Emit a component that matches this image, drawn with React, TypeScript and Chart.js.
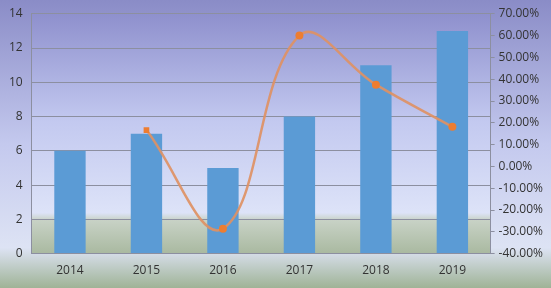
import React, { useEffect, useRef } from "react";
import { Chart, registerables } from "chart.js";

Chart.register(...registerables);

const categories = ["2014", "2015", "2016", "2017", "2018", "2019"];
const barValues = [6, 7, 5, 8, 11, 13];
const growthValues: (number | null)[] = [null, 16.67, -28.57, 60, 37.5, 18.18];
const pointStyles = ["circle", "rect", "circle", "circle", "circle", "circle"];

const bgPlugin = {
  id: "bgPlugin",
  beforeDraw(chart: any) {
    const { ctx, width, height, chartArea } = chart;
    ctx.save();
    const g = ctx.createLinearGradient(0, 0, 0, height);
    g.addColorStop(0, "#8a8cc7");
    g.addColorStop(0.5, "#c4c9ee");
    g.addColorStop(0.86, "#dde3f4");
    g.addColorStop(1, "#9fb396");
    ctx.fillStyle = g;
    ctx.fillRect(0, 0, width, height);
    if (chartArea) {
      const { left, top, right, bottom } = chartArea;
      const pg = ctx.createLinearGradient(0, top, 0, bottom);
      pg.addColorStop(0, "#8e90cd");
      pg.addColorStop(0.45, "#c3c9f0");
      pg.addColorStop(0.83, "#dde3f8");
      pg.addColorStop(0.86, "#c8d2c6");
      pg.addColorStop(1, "#a9b9a0");
      ctx.fillStyle = pg;
      ctx.fillRect(left, top, right - left, bottom - top);
    }
    ctx.restore();
  },
};

export default function App() {
  const ref = useRef<HTMLCanvasElement>(null);
  useEffect(() => {
    document.body.style.margin = "0";
    const font = { family: "'Open Sans', 'Liberation Sans', sans-serif", size: 12 };
    const yFont = { ...font, lineHeight: 0.8 };
    const chart = new Chart(ref.current as HTMLCanvasElement, {
      type: "bar",
      data: {
        labels: categories,
        datasets: [
          {
            type: "line",
            data: growthValues,
            yAxisID: "y1",
            borderColor: "rgba(222,145,100,0.92)",
            borderWidth: 2.5,
            tension: 0.4,
            pointStyle: pointStyles as any,
            pointRadius: 4,
            pointBackgroundColor: "#ed7d31",
            pointBorderColor: "#ed7d31",
            pointBorderWidth: 0,
            spanGaps: false,
            order: 0,
          } as any,
          {
            type: "bar",
            data: barValues,
            yAxisID: "y",
            backgroundColor: "#5b9bd5",
            categoryPercentage: 1,
            barPercentage: 0.41,
            order: 1,
          },
        ],
      },
      options: {
        animation: false,
        responsive: false,
        layout: { padding: { left: 0, right: 4, top: 0, bottom: 0 } },
        plugins: { legend: { display: false }, tooltip: { enabled: false } },
        scales: {
          x: {
            grid: { display: false, drawTicks: false },
            border: { display: true, color: "#8c8fa0" },
            ticks: { color: "#333333", font, padding: 10 },
          },
          y: {
            position: "left",
            min: 0,
            max: 14,
            ticks: { stepSize: 2, color: "#333333", font: yFont, padding: 9 },
            grid: { color: "#8c8fa0", drawTicks: false },
            border: { display: true, color: "#8c8fa0" },
          },
          y1: {
            position: "right",
            min: -40,
            max: 70,
            ticks: {
              stepSize: 10,
              color: "#333333",
              font: yFont,
              padding: 4,
              callback: (v: any) => Number(v).toFixed(2) + "%",
            },
            grid: { drawOnChartArea: false, color: "#8c8fa0", tickLength: 4 },
            border: { display: true, color: "#8c8fa0" },
          },
        },
      },
      plugins: [bgPlugin],
    });
    return () => chart.destroy();
  }, []);
  return (
    <div style={{ width: 551, height: 288 }}>
      <canvas ref={ref} width={551} height={288} style={{ display: "block" }} />
    </div>
  );
}
